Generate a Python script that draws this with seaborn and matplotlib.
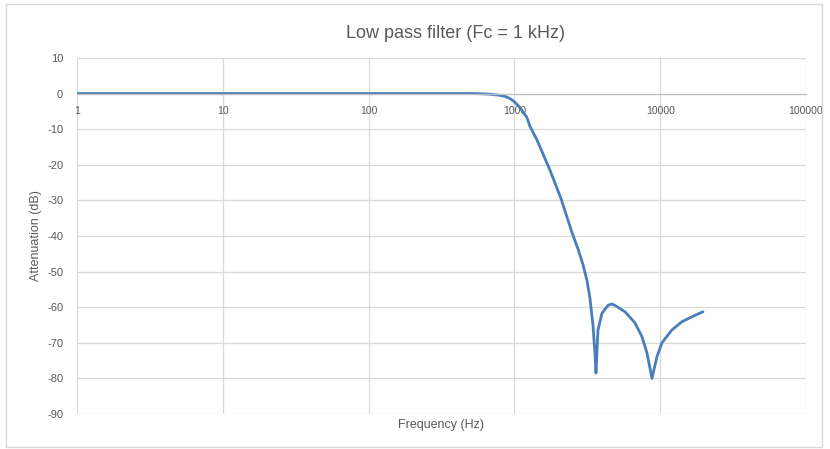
import matplotlib
matplotlib.use("Agg")
import matplotlib.pyplot as plt
import seaborn as sns
import pandas as pd
from matplotlib.patches import Rectangle

freq_hz = [1, 10, 100, 300, 496, 580, 681, 796, 862, 933, 1000, 1092, 1219, 1279,
           1428, 1675, 1754, 2088, 2483, 2750, 2954, 3148, 3300, 3460, 3572, 3630,
           3744, 3990, 4387, 4650, 4898, 5737, 6719, 7500, 8117, 8790, 9508, 10290,
           12040, 14100, 16520, 19660]
atten_db = [0, 0, 0, 0, 0, -0.05, -0.2, -0.5, -0.8, -1.4, -2.3, -3.9, -6.7, -9.2,
            -13, -19.6, -21.5, -29.5, -39, -44, -48, -52.5, -57.5, -65, -73, -78.5,
            -66.5, -61.7, -59.5, -59.1, -59.5, -61.3, -64.4, -68.3, -72.8, -80, -73.9,
            -70, -66.4, -64.1, -62.7, -61.3]

x_ticks = [1, 10, 100, 1000, 10000, 100000]
x_tick_labels = ["1", "10", "100", "1000", "10000", "100000"]
y_ticks = [10, 0, -10, -20, -30, -40, -50, -60, -70, -80, -90]

title = "Low pass filter (Fc = 1 kHz)"
xlabel = "Frequency (Hz)"
ylabel = "Attenuation (dB)"

sns.set_theme(style="white")
plt.rcParams['font.family'] = ['Liberation Sans', 'DejaVu Sans']

fig = plt.figure(figsize=(8.3, 4.49), dpi=100)
ax = fig.add_axes([0.0928, 0.078, 0.971 - 0.0928, 0.871 - 0.078])

df = pd.DataFrame({"f": freq_hz, "db": atten_db})
sns.lineplot(data=df, x="f", y="db", ax=ax, color="#4a7ebb", linewidth=2)

ax.set_xscale("log")
ax.set_xlim(1, 100000)
ax.set_ylim(-90, 10)
ax.set_xticks(x_ticks)
ax.set_xticklabels(x_tick_labels)
ax.minorticks_off()
ax.set_yticks(y_ticks)
ax.set_yticklabels([str(v) for v in y_ticks])

grid_c = "#d9d9d9"
ax.grid(True, which="major", color=grid_c, linewidth=0.9)
ax.set_axisbelow(True)
for s in ["top", "right", "left"]:
    ax.spines[s].set_visible(False)
ax.spines["bottom"].set_position(("data", 0))
ax.spines["bottom"].set_color("#bfbfbf")
ax.spines["bottom"].set_linewidth(0.9)

ax.tick_params(axis="x", length=0, pad=9, labelsize=7.5, labelcolor="#595959")
ax.tick_params(axis="y", length=0, pad=10, labelsize=8, labelcolor="#595959")

ax.set_xlabel("")
ax.set_ylabel("")
fig.text(441/830, 1 - 425/449, xlabel, ha="center", va="center", fontsize=9, color="#595959")
fig.text(36/830, 1 - 236/449, ylabel, ha="center", va="center", rotation=90, fontsize=9, color="#595959")
fig.text(455/830, 1 - 33/449, title, ha="center", va="center", fontsize=13, color="#595959")

fig.patches.append(Rectangle((6/830, 2/449), 816/830, 443/449, transform=fig.transFigure,
                             fill=False, edgecolor="#d9d9d9", linewidth=1))

fig.savefig("out.png", dpi=100, facecolor="white")
